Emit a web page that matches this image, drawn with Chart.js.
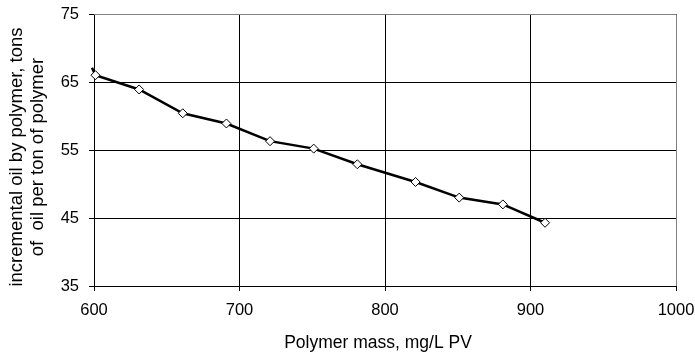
<!DOCTYPE html>
<html>
<head>
<meta charset="utf-8">
<script src="https://cdn.jsdelivr.net/npm/chart.js@4/dist/chart.umd.min.js"></script>
<style>
  html, body { margin: 0; padding: 0; background: #fff; }
  #wrap { width: 695px; height: 357px; }
</style>
</head>
<body>
<div id="wrap"><canvas id="chart" width="695" height="357"></canvas></div>
<script>
// Data {
    const polymerMass = [598.6, 601, 631, 661, 691, 721, 751, 781, 821, 851, 881, 910];
    const incrementalOil = [67.1, 66.0, 63.9, 60.4, 58.9, 56.3, 55.2, 52.9, 50.3, 48.0, 47.0, 44.3];
    const xTicks = [600, 700, 800, 900, 1000];
    const yTicks = [35, 45, 55, 65, 75];
    const xTitle = 'Polymer mass, mg/L PV';
    const yTitle = ['incremental oil by polymer, tons', 'of  oil per ton of polymer'];
// };

const points = polymerMass.map((x, i) => ({ x: x, y: incrementalOil[i] }));
const radii = polymerMass.map((x, i) => i === 0 ? 0 : 4.5);
const family = '"Liberation Sans", Arial, sans-serif';
const tickFont = { family: family, size: 16.5 };

// Plot border (gray top/right) and axis titles {
const frame = {
    id: 'frame',
    beforeDatasetsDraw(chart) {
        const a = chart.chartArea, c = chart.ctx;
        c.save();
        c.strokeStyle = '#808080';
        c.lineWidth = 1;
        c.beginPath();
        c.moveTo(a.left, a.top + 0.5);
        c.lineTo(a.right + 0.5, a.top + 0.5);
        c.lineTo(a.right + 0.5, a.bottom);
        c.stroke();
        c.restore();
    },
    afterDraw(chart) {
        const a = chart.chartArea, c = chart.ctx;
        c.save();
        c.fillStyle = '#000';
        c.textBaseline = 'alphabetic';
        c.textAlign = 'center';
        c.font = '17.5px ' + family;
        c.fillText(xTitle, (a.left + a.right) / 2 - 7, 348);
        c.font = '18.5px ' + family;
        const cy = (a.top + a.bottom) / 2 + 7;
        [21.5, 42.5].forEach((bx, i) => {
            c.save();
            c.translate(bx, cy);
            c.rotate(-Math.PI / 2);
            c.fillText(yTitle[i], 0, 0);
            c.restore();
        });
        c.restore();
    }
};
// };

new Chart(document.getElementById('chart').getContext('2d'), {
    type: 'scatter',
    data: {
        datasets: [{
            data: points,
            showLine: true,
            borderColor: '#000',
            borderWidth: 2.5,
            pointStyle: 'rectRot',
            pointRadius: radii,
            pointBackgroundColor: '#fff',
            pointBorderColor: '#000',
            pointBorderWidth: 1,
            clip: false
        }]
    },
    options: {
        responsive: false,
        animation: false,
        layout: { padding: { left: 0, right: 19, top: 14, bottom: 0 } },
        plugins: { legend: { display: false }, tooltip: { enabled: false } },
        scales: {
            x: {
                type: 'linear',
                min: 600, max: 1000,
                afterBuildTicks: s => { s.ticks = xTicks.map(v => ({ value: v })); },
                afterFit: s => { s.height = 71; s.paddingLeft = 0; s.paddingRight = 0; },
                grid: { color: '#000', lineWidth: 1, tickLength: 5 },
                border: { color: '#000', width: 1 },
                ticks: { color: '#000', font: tickFont, padding: 10, maxRotation: 0, callback: v => String(v) }
            },
            y: {
                type: 'linear',
                min: 35, max: 75,
                afterBuildTicks: s => { s.ticks = yTicks.map(v => ({ value: v })); },
                afterFit: s => { s.width = 94; s.paddingTop = 0; s.paddingBottom = 0; },
                grid: { color: '#000', lineWidth: 1, tickLength: 5 },
                border: { color: '#000', width: 1 },
                ticks: { color: '#000', font: tickFont, padding: 10, callback: v => String(v) }
            }
        }
    },
    plugins: [frame]
});
</script>
</body>
</html>
